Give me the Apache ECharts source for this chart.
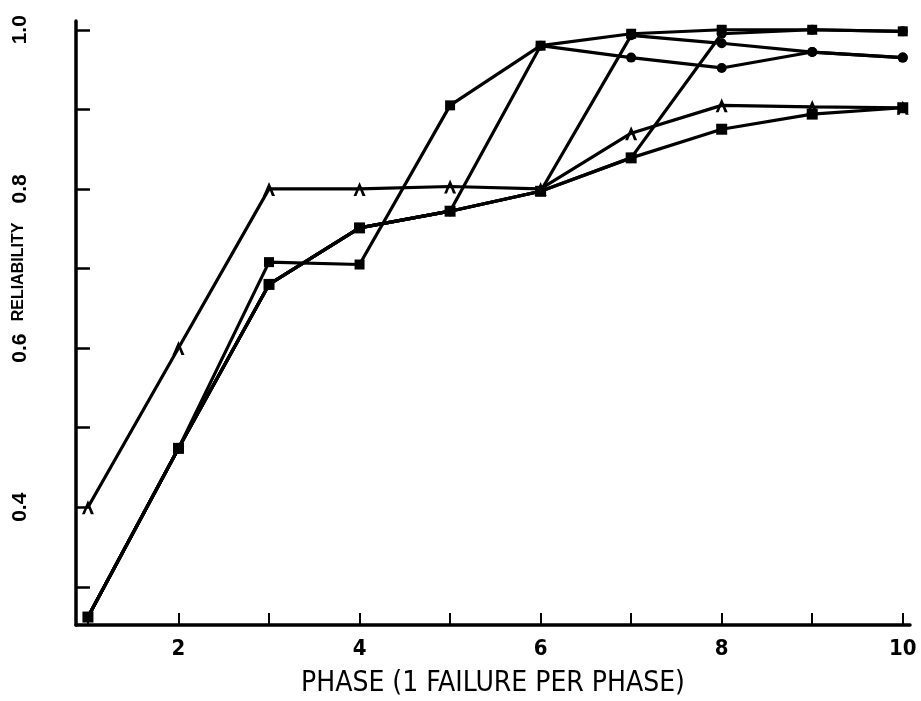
<!DOCTYPE html>
<html>
<head>
<meta charset="utf-8">
<title>Reliability by phase</title>
<script src="https://cdn.jsdelivr.net/npm/echarts@6/dist/echarts.min.js"></script>
<style>
html, body { margin: 0; padding: 0; background: #fff; }
#chart { width: 921px; height: 701px; }
</style>
</head>
<body>
<div id="chart"></div>
<script>
// x positions (phase) and axis ticks
var phases = [1, 2, 3, 4, 5, 6, 7, 8, 9, 10];
var xTickValues = [1, 2, 3, 4, 5, 6, 7, 8, 9, 10];
var xLabelValues = [2, 4, 6, 8, 10];
var yTickValues = [0.3, 0.4, 0.5, 0.6, 0.7, 0.8, 0.9, 1.0];
var yLabelValues = [0.4, 0.6, 0.8, 1.0];

// reliability curves
var baseCurve  = [0.262, 0.474, 0.680, 0.751, 0.772, 0.797, 0.839, 0.875, 0.894, 0.902];
var curveA     = [0.400, 0.600, 0.800, 0.800, 0.803, 0.800, 0.870, 0.905, 0.903, 0.902];
var curveS     = [0.262, 0.474, 0.708, 0.705, 0.905, 0.980, 0.995, 1.000, 1.000, 0.998];
var curveJump6 = [0.262, 0.474, 0.680, 0.751, 0.772, 0.980, 0.965, 0.952, 0.972, 0.965];
var curveJump7 = [0.262, 0.474, 0.680, 0.751, 0.772, 0.797, 0.993, 0.983, 0.972, 0.965];
var curveJump8 = [0.262, 0.474, 0.680, 0.751, 0.772, 0.797, 0.839, 0.995, 1.000, 0.998];

var chevron = 'path://M0,12 L5,0 L10,12 L7.4,12 L5,5.4 L2.4,12 Z';
var narrowFont = '"Liberation Sans Narrow", "DejaVu Sans Condensed", sans-serif';

function toPoints(values) {
    return phases.map(function(p, i) { return [p, values[i]]; });
}

function lineSeries(name, values, symbol, size) {
    return {
        name: name,
        type: 'line',
        data: toPoints(values),
        symbol: symbol,
        symbolSize: size,
        showAllSymbol: true,
        lineStyle: { color: '#000', width: 3.2 },
        itemStyle: { color: '#000' },
        emphasis: { disabled: true },
        animation: false
    };
}

var chart = echarts.init(document.getElementById('chart'));
chart.setOption({
    animation: false,
    grid: { left: 76, right: 11, top: 21, bottom: 76, containLabel: false, outerBoundsMode: 'none' },
    xAxis: {
        type: 'value',
        min: 0.868,
        max: 10.08,
        name: 'PHASE (1 FAILURE PER PHASE)',
        nameLocation: 'middle',
        nameGap: 45,
        nameTextStyle: {
            fontFamily: narrowFont,
            fontSize: 28,
            color: '#000'
        },
        axisLine: { show: true, onZero: false, lineStyle: { color: '#000', width: 3.5 } },
        axisTick: { show: true, inside: true, length: 12, customValues: xTickValues, lineStyle: { color: '#000', width: 2 } },
        axisLabel: {
            customValues: xLabelValues,
            margin: 13,
            color: '#000',
            fontFamily: narrowFont,
            fontWeight: 'bold',
            fontSize: 22
        },
        splitLine: { show: false }
    },
    yAxis: {
        type: 'value',
        min: 0.252,
        max: 1.011,
        axisLine: { show: true, onZero: false, lineStyle: { color: '#000', width: 3.5 } },
        axisTick: { show: true, inside: true, length: 14, customValues: yTickValues, lineStyle: { color: '#000', width: 2.5 } },
        axisLabel: {
            customValues: yLabelValues,
            rotate: 90,
            margin: 45,
            color: '#000',
            fontFamily: '"Liberation Sans", Arial, sans-serif',
            fontWeight: 'bold',
            fontSize: 21,
            formatter: function(v) { return v.toFixed(1); }
        },
        splitLine: { show: false }
    },
    graphic: [{
        type: 'text',
        x: 19,
        y: 272,
        rotation: Math.PI / 2,
        style: {
            text: 'RELIABILITY',
            fill: '#000',
            font: 'bold 16px "Liberation Sans", Arial, sans-serif',
            align: 'center',
            verticalAlign: 'middle'
        }
    }],
    series: [
        lineSeries('base', baseCurve, 'rect', 11),
        lineSeries('A', curveA, chevron, [12, 14]),
        lineSeries('S', curveS, 'rect', 10),
        lineSeries('4', curveJump6, 'circle', 10),
        lineSeries('7', curveJump7, 'circle', 10),
        lineSeries('8', curveJump8, 'circle', 10)
    ]
});
</script>
</body>
</html>
